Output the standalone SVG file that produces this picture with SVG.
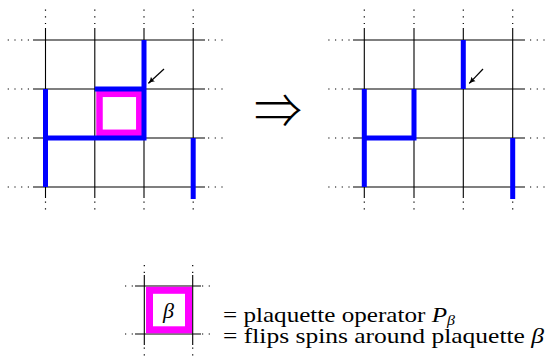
<svg xmlns="http://www.w3.org/2000/svg" width="546" height="356" viewBox="0 0 546 356">
<style>
.g{stroke:#000;stroke-width:1.1;fill:none}
.d{stroke:#000;stroke-width:1.2;fill:none;stroke-dasharray:1.2 5.5}
.b{stroke:#0000ff;stroke-width:5;fill:none;stroke-linecap:butt}
.m{stroke:#ff00ff;fill:none}
.t{font-family:"Liberation Serif","DejaVu Serif",serif;font-size:22px;fill:#000}
.a{stroke:#000;stroke-width:1.2;fill:none}
</style>
<defs>
<marker id="ah" viewBox="0 0 10 10" refX="9" refY="5" markerWidth="7" markerHeight="7" markerUnits="userSpaceOnUse" orient="auto">
<path d="M0,0.5 Q4,4 10,5 Q4,6 0,9.5 Q2.5,5 0,0.5Z" fill="#000"/>
</marker>
</defs>
<g id="grid-left">
<path class="g" d="M33,40H205M33,89H205M33,138H205M33,187H205M45.5,28V198M94.8,28V198M144,28V198M193.2,28V198"/>
<path class="d" d="M7.7,40H33M7.7,89H33M7.7,138H33M7.7,187H33M208,40H225M208,89H225M208,138H225M208,187H225"/>
<path class="d" d="M45.5,9.5V27M94.8,9.5V27M144,9.5V27M193.2,9.5V27M45.5,201.5V212M94.8,201.5V212M144,201.5V212M193.2,201.5V212"/>
</g>
<g id="plaquette-left">
<rect class="m" x="99.5" y="93.8" width="39.8" height="39" stroke-width="6.5"/>
</g>
<g id="strings-left">
<path class="b" d="M144,40V139.5M94.8,89H146.5M45.5,89V187M43,138H146.5M193.2,138V199"/>
</g>
<g id="grid-right">
<path class="g" d="M353,40H525M353,89H525M353,138H525M353,187H525M364.3,28V198M414,28V198M463.3,28V198M512.7,28V198"/>
<path class="d" d="M328.3,40H352M328.3,89H352M328.3,138H352M328.3,187H352M530,40H546M530,89H546M530,138H546M530,187H546"/>
<path class="d" d="M364.3,9.5V27M414,9.5V27M463.3,9.5V27M512.7,9.5V27M364.3,201.5V212M414,201.5V212M463.3,201.5V212M512.7,201.5V212"/>
</g>
<g id="strings-right">
<path class="b" d="M463.3,40V89M364.3,89V187M362,138H416.5M414,89V140.5M512.7,138V199"/>
</g>
<g id="connectors">
<line class="a" x1="164" y1="69" x2="148.5" y2="83.3" marker-end="url(#ah)"/>
<line class="a" x1="483" y1="69" x2="469.3" y2="83.3" marker-end="url(#ah)"/>
</g>
<g id="implies">
<text x="278" y="128" font-family="Noto Sans CJK JP,DejaVu Sans,sans-serif" font-weight="300" font-size="48" text-anchor="middle">⇒</text>
</g>
<g id="legend">
<path class="g" d="M135,286H201M135,334H201M144.3,275V345M192.7,275V345"/>
<path class="d" d="M125,286H134M202,286H213M125,334H134M202,334H213M144.3,265V274M192.7,265V274M144.3,347.5V356M192.7,347.5V356"/>
<rect class="m" x="149.5" y="290.3" width="39" height="39.5" stroke-width="7"/>
<text class="t" x="168.5" y="318" text-anchor="middle" font-style="italic" font-size="23">β</text>
<text class="t" x="223" y="322" textLength="232" lengthAdjust="spacingAndGlyphs">= plaquette operator <tspan font-style="italic">P</tspan><tspan font-style="italic" font-size="14" dy="3">β</tspan></text>
<text class="t" x="223" y="343" textLength="321" lengthAdjust="spacingAndGlyphs">= flips spins around plaquette <tspan font-style="italic">β</tspan></text>
</g>
</svg>
